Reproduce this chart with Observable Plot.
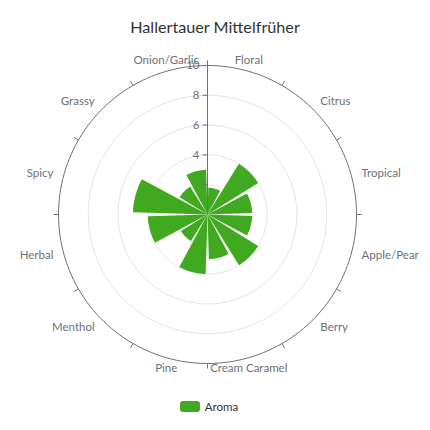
<!DOCTYPE html>
<html>
<head>
<meta charset="utf-8">
<script src="https://cdn.jsdelivr.net/npm/d3@7"></script>
<script src="https://cdn.jsdelivr.net/npm/@observablehq/plot@0.6"></script>
<style>
  html, body { margin: 0; padding: 0; background: #fff; }
  body { width: 430px; height: 430px; overflow: hidden; font-family: Lato, "Noto Sans", sans-serif; }
  #title { height: 46px; line-height: 54px; text-align: center; font-size: 16.2px; color: #333; }
  #legend { display: flex; align-items: center; justify-content: center; height: 40px; margin-left: -12px; font-size: 11.5px; color: #333; }
  #legend .sw { width: 20px; height: 11px; border-radius: 3px; background: #41a91f; margin-right: 5px; }
</style>
</head>
<body>
<div id="title">Hallertauer Mittelfrüher</div>
<div id="chart"></div>
<div id="legend"><span class="sw"></span><span>Aroma</span></div>
<script>
const categories = ["Floral", "Citrus", "Tropical", "Apple/Pear", "Berry", "Cream Caramel", "Pine", "Menthol", "Herbal", "Spicy", "Grassy", "Onion/Garlic"];
const aroma = [1.8, 4, 3, 3, 4, 3, 4, 2.1, 4, 5, 2.2, 3];
const radialTicks = [2, 4, 6, 8, 10];
const seriesName = "Aroma";
const barColor = "#41a91f";

const W = 430, H = 340, cx = 207, cy = 168, k = 14.9; // px per unit
const rMax = 10;
const n = categories.length;
const step = 360 / n;
const inset = 1.8;
const rad = d => d * Math.PI / 180;
const pt = (r, deg) => ({x: r * Math.sin(rad(deg)), y: r * Math.cos(rad(deg))});

// bars
const barPts = [];
categories.forEach((c, i) => {
  const v = aroma[i];
  const a0 = i * step + inset, a1 = (i + 1) * step - inset;
  barPts.push({c, ...pt(0, 0)});
  for (let j = 0; j <= 24; j++) barPts.push({c, ...pt(v, a0 + (a1 - a0) * j / 24)});
  barPts.push({c, ...pt(0, 0)});
});

// grid circles
const gridPts = [];
radialTicks.forEach(r => { for (let j = 0; j <= 180; j++) gridPts.push({r, ...pt(r, j * 2)}); });

// angle ticks (outward)
const angTicks = d3.range(n).map(i => {
  const a = pt(rMax, i * step), b = pt(rMax + 5 / k, i * step);
  return {x1: a.x, y1: a.y, x2: b.x, y2: b.y};
});

// category labels
const labR = rMax + 10.5 / k;
const labels = categories.map((c, i) => {
  const ang = i * step + step / 2;
  const p = pt(labR, ang);
  const s = Math.sin(rad(ang));
  const anchor = Math.abs(s) < 0.3 ? "middle" : (s > 0 ? "start" : "end");
  return {c, anchor, ...p};
});

const rTicks = radialTicks.map(r => ({r, x: 0, y: r}));

const plot = Plot.plot({
  width: W, height: H,
  marginTop: 0, marginBottom: 0, marginLeft: 0, marginRight: 0,
  x: {domain: [-cx / k, (W - cx) / k], range: [0, W], axis: null},
  y: {domain: [-(H - cy) / k, cy / k], range: [H, 0], axis: null},
  style: {fontFamily: "Lato, Noto Sans, sans-serif", background: "transparent", overflow: "visible"},
  marks: [
    Plot.line(gridPts.filter(d => d.r < rMax), {x: "x", y: "y", z: "r", stroke: "#e6e6e6", strokeWidth: 1}),
    Plot.text(rTicks, {x: "x", y: "y", text: d => String(d.r), dx: -8, textAnchor: "end", fill: "#6e7079", fontSize: 11.5}),
    Plot.line(barPts, {x: "x", y: "y", z: "c", fill: barColor, stroke: "none", curve: "linear"}),
    Plot.line(gridPts.filter(d => d.r === rMax), {x: "x", y: "y", stroke: "#6e7079", strokeWidth: 1}),
    Plot.link(angTicks, {x1: "x1", y1: "y1", x2: "x2", y2: "y2", stroke: "#6e7079", strokeWidth: 1}),
    Plot.link([{x1: 0, y1: 0, x2: 0, y2: rMax}], {x1: "x1", y1: "y1", x2: "x2", y2: "y2", stroke: "#6e7079", strokeWidth: 1}),
    Plot.link(rTicks, {x1: "x", y1: "y", x2: d => -5 / k, y2: "y", stroke: "#6e7079", strokeWidth: 1}),
    ...["start", "middle", "end"].map(a =>
      Plot.text(labels.filter(d => d.anchor === a), {x: "x", y: "y", text: "c", textAnchor: a, fill: "#6e7079", fontSize: 11.5})
    )
  ]
});
document.getElementById("chart").appendChild(plot);
</script>
</body>
</html>
